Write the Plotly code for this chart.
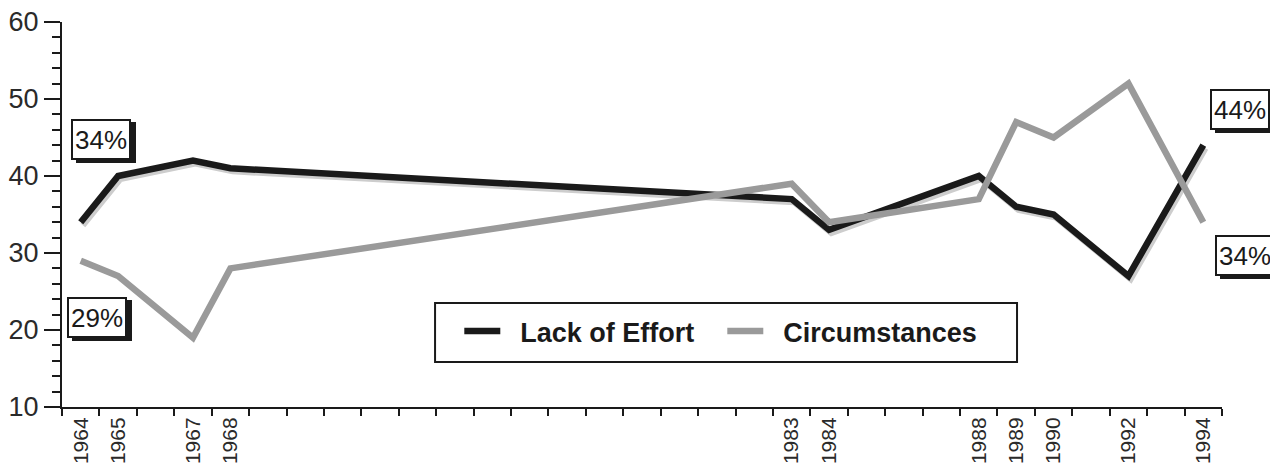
import plotly.graph_objects as go

years = [1964, 1965, 1967, 1968, 1983, 1984, 1988, 1989, 1990, 1992, 1994]
lack_of_effort = [34, 40, 42, 41, 37, 33, 40, 36, 35, 27, 44]
circumstances = [29, 27, 19, 28, 39, 34, 37, 47, 45, 52, 34]
year_labels = [str(y) for y in years]
y_ticks = [10, 20, 30, 40, 50, 60]
series_names = ["Lack of Effort", "Circumstances"]

FONT = "Liberation Sans, Arial, Helvetica, sans-serif"
BLACK = "#1a1a1a"
GREY = "#9a9a9a"
GAP = "\u00a0\u00a0"  # a little extra room between legend swatch and label

fig = go.Figure()

# soft scan shadow under the dark line (drawn on a slightly offset hidden axis pair)
fig.add_trace(go.Scatter(x=years, y=lack_of_effort, mode="lines", xaxis="x2", yaxis="y2",
                         line=dict(color="#cdcdcd", width=6), showlegend=False, hoverinfo="skip"))
fig.add_trace(go.Scatter(x=years, y=lack_of_effort, mode="lines", name=GAP + series_names[0],
                         xaxis="x3", yaxis="y3", line=dict(color=BLACK, width=6.5)))
fig.add_trace(go.Scatter(x=years, y=circumstances, mode="lines", name=GAP + series_names[1],
                         xaxis="x3", yaxis="y3", line=dict(color=GREY, width=6.5)))

xr = [min(years) - 0.5, max(years) + 0.5]
yr = [min(y_ticks), max(y_ticks)]

# the page body adds an 8px offset, so the figure is 8px smaller than the window
fig.update_layout(
    width=1270, height=464,
    margin=dict(l=54, r=56, t=14, b=65),
    paper_bgcolor="white", plot_bgcolor="white",
    font=dict(family=FONT, color="#222"),
    xaxis=dict(range=xr, tickmode="array", tickvals=years, ticktext=year_labels,
               tickangle=-90, ticks="", ticklen=0, automargin=False,
               tickfont=dict(size=21, color="#2a2a2a"),
               showline=True, linecolor=BLACK, linewidth=2, showgrid=False, zeroline=False,
               minor=dict(tickmode="linear", tick0=xr[0], dtick=1, ticks="outside",
                          ticklen=7, tickwidth=2, tickcolor=BLACK, showgrid=False)),
    yaxis=dict(range=yr, tickmode="array", tickvals=y_ticks, ticks="outside", ticklen=16,
               tickwidth=2, tickcolor=BLACK, automargin=False, ticklabeloverflow="allow",
               tickfont=dict(size=27, color="#2a2a2a"),
               showline=True, linecolor=BLACK, linewidth=2, showgrid=False, zeroline=False,
               minor=dict(tickmode="linear", tick0=10, dtick=2, ticks="outside",
                          ticklen=8, tickwidth=2, tickcolor=BLACK, showgrid=False)),
    xaxis2=dict(range=[xr[0] - 0.06, xr[1] - 0.06], overlaying="x", visible=False),
    yaxis2=dict(range=[yr[0] + 0.4, yr[1] + 0.4], overlaying="y", visible=False),
    xaxis3=dict(range=xr, overlaying="x", visible=False),
    yaxis3=dict(range=yr, overlaying="y", visible=False),
    legend=dict(orientation="h", x=0.3425, xanchor="left", y=0.196, yanchor="middle",
                borderwidth=0, bgcolor="rgba(0,0,0,0)",
                font=dict(size=27, color=BLACK, family=FONT, weight="bold"),
                entrywidth=212, entrywidthmode="pixels", itemwidth=36),
    showlegend=True,
    shapes=[dict(type="rect", xref="paper", yref="paper", x0=0.3216, x1=0.8233,
                 y0=0.117, y1=0.270, line=dict(color=BLACK, width=2),
                 fillcolor="white", layer="below")],
)

def box(text, x, y):
    common = dict(xref="x", yref="y", showarrow=False, xanchor="left", yanchor="middle",
                  width=52, height=33, borderpad=2, borderwidth=2, bordercolor=BLACK)
    fig.add_annotation(x=x, y=y, text="\u00a0", xshift=5, yshift=-3,
                       font=dict(size=26, color=BLACK, family=FONT), bgcolor=BLACK, **common)
    fig.add_annotation(x=x, y=y, text=text,
                       font=dict(size=26, color=BLACK, family=FONT), bgcolor="white", **common)

box(f"{lack_of_effort[0]}%", years[0] - 0.27, 44.7)
box(f"{circumstances[0]}%", years[0] - 0.37, 21.6)
box(f"{lack_of_effort[-1]}%", years[-1] + 0.18, 48.6)
box(f"{circumstances[-1]}%", years[-1] + 0.3, 29.7)

fig.write_html("out.html")
